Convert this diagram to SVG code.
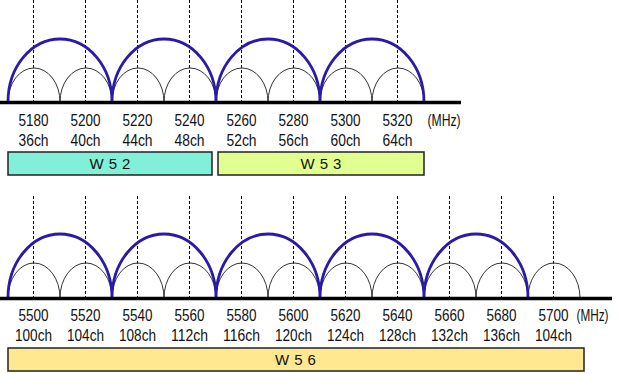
<svg xmlns="http://www.w3.org/2000/svg" width="620" height="373" viewBox="0 0 620 373">
<style>
.base{stroke:#000;stroke-width:3.5;fill:none}
.dash{stroke:#000;stroke-width:1;stroke-dasharray:3 2;fill:none}
.sm{stroke:#333;stroke-width:1;fill:none}
.lg{stroke:#2a1aa8;stroke-width:2.8;fill:none}
.lbl{font-family:"Liberation Sans",Arial,sans-serif;font-size:16.5px;fill:#111;text-anchor:middle}
.box{stroke:#222;stroke-width:1.5}
.btx{font-family:"Liberation Sans",Arial,sans-serif;font-size:15px;fill:#111;text-anchor:middle;letter-spacing:5px}
</style>
<rect width="620" height="373" fill="#fff"/>
<g id="top-row">
<g id="top-dashes">
<path class="dash" d="M33.5 0V102M85.5 0V102M137.5 0V102M189.5 0V102M241.5 0V102M293.5 0V102M345.5 0V102M397.5 0V102"/>
</g>
<g id="top-small-arcs">
<path class="sm" d="M8 102A26 34 0 0 1 60 102M60 102A26 34 0 0 1 112 102M112 102A26 34 0 0 1 164 102M164 102A26 34 0 0 1 216 102M216 102A26 34 0 0 1 268 102M268 102A26 34 0 0 1 320 102M320 102A26 34 0 0 1 372 102M372 102A26 34 0 0 1 424 102"/>
</g>
<g id="top-large-arcs">
<path class="lg" d="M8 102A52 63 0 0 1 112 102M112 102A52 63 0 0 1 216 102M216 102A52 63 0 0 1 320 102M320 102A52 63 0 0 1 424 102"/>
</g>
<line class="base" x1="0" y1="102.5" x2="461" y2="102.5"/>
<g id="top-labels" class="lbl">
<text x="33.5" y="126" textLength="30" lengthAdjust="spacingAndGlyphs">5180</text><text x="85.5" y="126" textLength="30" lengthAdjust="spacingAndGlyphs">5200</text><text x="137.5" y="126" textLength="30" lengthAdjust="spacingAndGlyphs">5220</text><text x="189.5" y="126" textLength="30" lengthAdjust="spacingAndGlyphs">5240</text>
<text x="241.5" y="126" textLength="30" lengthAdjust="spacingAndGlyphs">5260</text><text x="293.5" y="126" textLength="30" lengthAdjust="spacingAndGlyphs">5280</text><text x="345.5" y="126" textLength="30" lengthAdjust="spacingAndGlyphs">5300</text><text x="397.5" y="126" textLength="30" lengthAdjust="spacingAndGlyphs">5320</text>
<text x="444" y="126" textLength="33" lengthAdjust="spacingAndGlyphs">(MHz)</text>
<text x="33.5" y="146" textLength="30" lengthAdjust="spacingAndGlyphs">36ch</text><text x="85.5" y="146" textLength="30" lengthAdjust="spacingAndGlyphs">40ch</text><text x="137.5" y="146" textLength="30" lengthAdjust="spacingAndGlyphs">44ch</text><text x="189.5" y="146" textLength="30" lengthAdjust="spacingAndGlyphs">48ch</text>
<text x="241.5" y="146" textLength="30" lengthAdjust="spacingAndGlyphs">52ch</text><text x="293.5" y="146" textLength="30" lengthAdjust="spacingAndGlyphs">56ch</text><text x="345.5" y="146" textLength="30" lengthAdjust="spacingAndGlyphs">60ch</text><text x="397.5" y="146" textLength="30" lengthAdjust="spacingAndGlyphs">64ch</text>
</g>
</g>
<g id="W52">
<rect class="box" x="8" y="152" width="204" height="23" fill="#82f0d8"/>
<text class="btx" x="112.5" y="169">W52</text>
</g>
<g id="W53">
<rect class="box" x="218" y="152" width="206" height="23" fill="#e0ff90"/>
<text class="btx" x="323.5" y="169">W53</text>
</g>
<g id="bottom-row">
<g id="bottom-dashes">
<path class="dash" d="M33.5 196V298M85.5 196V298M137.5 196V298M189.5 196V298M241.5 196V298M293.5 196V298M345.5 196V298M397.5 196V298M449.5 196V298M501.5 196V298M553.5 196V298"/>
</g>
<g id="bottom-small-arcs">
<path class="sm" d="M8 298A26 35 0 0 1 60 298M60 298A26 35 0 0 1 112 298M112 298A26 35 0 0 1 164 298M164 298A26 35 0 0 1 216 298M216 298A26 35 0 0 1 268 298M268 298A26 35 0 0 1 320 298M320 298A26 35 0 0 1 372 298M372 298A26 35 0 0 1 424 298M424 298A26 35 0 0 1 476 298M476 298A26 35 0 0 1 528 298M528 298A26 35 0 0 1 580 298"/>
</g>
<g id="bottom-large-arcs">
<path class="lg" d="M8 298A52 64 0 0 1 112 298M112 298A52 64 0 0 1 216 298M216 298A52 64 0 0 1 320 298M320 298A52 64 0 0 1 424 298M424 298A52 64 0 0 1 528 298"/>
</g>
<line class="base" x1="0" y1="298.5" x2="612" y2="298.5"/>
<g id="bottom-labels" class="lbl">
<text x="33.5" y="321" textLength="30" lengthAdjust="spacingAndGlyphs">5500</text><text x="85.5" y="321" textLength="30" lengthAdjust="spacingAndGlyphs">5520</text><text x="137.5" y="321" textLength="30" lengthAdjust="spacingAndGlyphs">5540</text><text x="189.5" y="321" textLength="30" lengthAdjust="spacingAndGlyphs">5560</text>
<text x="241.5" y="321" textLength="30" lengthAdjust="spacingAndGlyphs">5580</text><text x="293.5" y="321" textLength="30" lengthAdjust="spacingAndGlyphs">5600</text><text x="345.5" y="321" textLength="30" lengthAdjust="spacingAndGlyphs">5620</text><text x="397.5" y="321" textLength="30" lengthAdjust="spacingAndGlyphs">5640</text>
<text x="449.5" y="321" textLength="30" lengthAdjust="spacingAndGlyphs">5660</text><text x="501.5" y="321" textLength="30" lengthAdjust="spacingAndGlyphs">5680</text><text x="553.5" y="321" textLength="30" lengthAdjust="spacingAndGlyphs">5700</text>
<text x="592.5" y="321" textLength="32" lengthAdjust="spacingAndGlyphs">(MHz)</text>
<text x="33.5" y="341" textLength="37" lengthAdjust="spacingAndGlyphs">100ch</text><text x="85.5" y="341" textLength="37" lengthAdjust="spacingAndGlyphs">104ch</text><text x="137.5" y="341" textLength="37" lengthAdjust="spacingAndGlyphs">108ch</text><text x="189.5" y="341" textLength="37" lengthAdjust="spacingAndGlyphs">112ch</text>
<text x="241.5" y="341" textLength="37" lengthAdjust="spacingAndGlyphs">116ch</text><text x="293.5" y="341" textLength="37" lengthAdjust="spacingAndGlyphs">120ch</text><text x="345.5" y="341" textLength="37" lengthAdjust="spacingAndGlyphs">124ch</text><text x="397.5" y="341" textLength="37" lengthAdjust="spacingAndGlyphs">128ch</text>
<text x="449.5" y="341" textLength="37" lengthAdjust="spacingAndGlyphs">132ch</text><text x="501.5" y="341" textLength="37" lengthAdjust="spacingAndGlyphs">136ch</text><text x="553.5" y="341" textLength="37" lengthAdjust="spacingAndGlyphs">104ch</text>
</g>
</g>
<g id="W56">
<rect class="box" x="8" y="348" width="576" height="23" fill="#ffe890"/>
<text class="btx" x="298" y="365">W56</text>
</g>
</svg>
